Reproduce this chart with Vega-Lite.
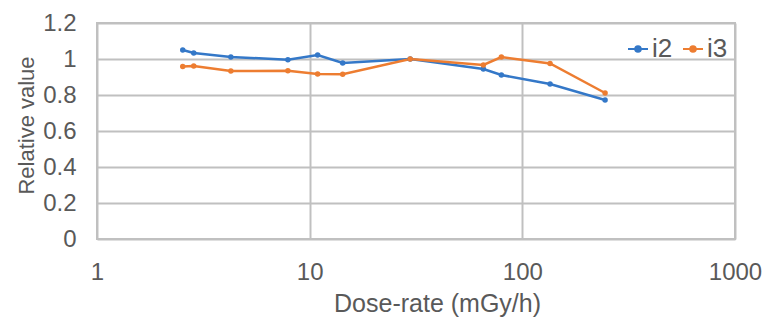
{
  "$schema": "https://vega.github.io/schema/vega-lite/v6.json",
  "autosize": "none",
  "width": 638,
  "height": 216,
  "padding": {"left": 97, "top": 23, "right": 34, "bottom": 87},
  "background": "white",
  "config": {
    "font": "Liberation Sans",
    "view": {"stroke": "#c0c0c0", "strokeWidth": 2},
    "axis": {
      "domain": false,
      "ticks": false,
      "gridColor": "#c0c0c0",
      "gridWidth": 2,
      "labelColor": "#595959",
      "titleColor": "#595959",
      "labelFontSize": 24,
      "labelFlush": false,
      "labelOverlap": false,
      "titleFontWeight": "normal",
      "labelPadding": 21
    }
  },
  "data": {
    "values": [
      {"rate": 2.53, "value": 1.05, "series": "i2"},
      {"rate": 2.85, "value": 1.033, "series": "i2"},
      {"rate": 4.26, "value": 1.011, "series": "i2"},
      {"rate": 7.9, "value": 0.996, "series": "i2"},
      {"rate": 10.9, "value": 1.022, "series": "i2"},
      {"rate": 14.3, "value": 0.978, "series": "i2"},
      {"rate": 29.7, "value": 1.0, "series": "i2"},
      {"rate": 65.6, "value": 0.944, "series": "i2"},
      {"rate": 79.7, "value": 0.911, "series": "i2"},
      {"rate": 135, "value": 0.861, "series": "i2"},
      {"rate": 245, "value": 0.772, "series": "i2"},
      {"rate": 2.53, "value": 0.958, "series": "i3"},
      {"rate": 2.85, "value": 0.961, "series": "i3"},
      {"rate": 4.26, "value": 0.933, "series": "i3"},
      {"rate": 7.9, "value": 0.935, "series": "i3"},
      {"rate": 10.9, "value": 0.917, "series": "i3"},
      {"rate": 14.3, "value": 0.915, "series": "i3"},
      {"rate": 29.7, "value": 1.0, "series": "i3"},
      {"rate": 65.6, "value": 0.967, "series": "i3"},
      {"rate": 79.7, "value": 1.011, "series": "i3"},
      {"rate": 135, "value": 0.975, "series": "i3"},
      {"rate": 245, "value": 0.811, "series": "i3"}
    ]
  },
  "mark": {"type": "line", "strokeWidth": 2.5, "point": {"size": 30, "filled": true}},
  "encoding": {
    "x": {
      "field": "rate", "type": "quantitative",
      "scale": {"type": "log", "domain": [1, 1000], "nice": false},
      "axis": {"values": [1, 10, 100, 1000], "format": "~g", "title": "Dose-rate (mGy/h)", "titleFontSize": 25, "titlePadding": 7, "titleX": 340}
    },
    "y": {
      "field": "value", "type": "quantitative",
      "scale": {"domain": [0, 1.2], "nice": false},
      "axis": {"values": [0, 0.2, 0.4, 0.6, 0.8, 1, 1.2], "format": "~g", "title": "Relative value", "titleFontSize": 22, "titlePadding": 4, "titleY": 102}
    },
    "color": {
      "field": "series", "type": "nominal",
      "scale": {"domain": ["i2", "i3"], "range": ["#3478c8", "#ED7D31"]},
      "legend": {
        "title": null,
        "orient": "none",
        "legendX": 528,
        "legendY": 13,
        "direction": "horizontal",
        "labelFontSize": 26,
        "labelColor": "#595959",
        "symbolType": "M-1,0H1M0,-0.28A0.28,0.28 0 1,1 0,0.28A0.28,0.28 0 1,1 0,-0.28Z",
        "symbolSize": 400,
        "symbolStrokeWidth": 2,
        "labelOffset": 1,
        "columnPadding": 6
      }
    }
  }
}
